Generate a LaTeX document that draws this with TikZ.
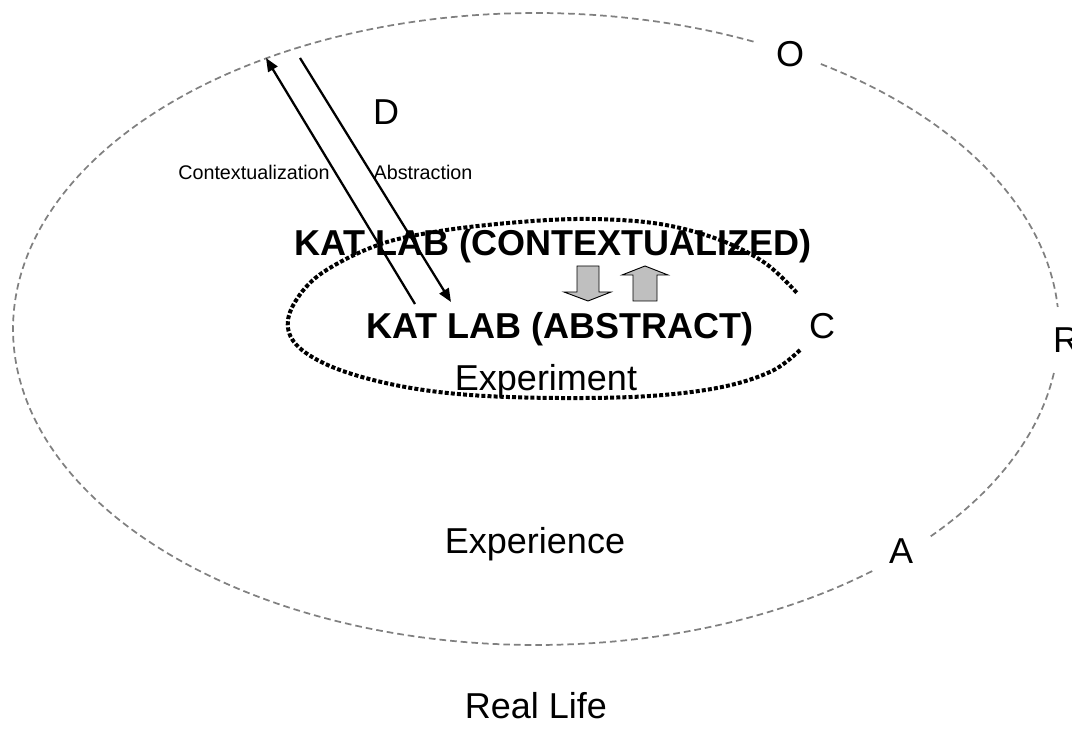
\documentclass[tikz,border=0pt]{standalone}
\usepackage{fontspec}
\setmainfont{Liberation Sans}
\usetikzlibrary{arrows.meta}
\tikzset{
  outerring/.style={draw={rgb,255:red,128;green,128;blue,128}, line width=1.3pt, dash pattern=on 5pt off 3pt},
  innerring/.style={draw=black, line width=3pt, dash pattern=on 3pt off 1.6pt},
  bigtxt/.style={anchor=base, inner sep=0pt, font=\fontsize{27}{30}\selectfont},
  boldtxt/.style={anchor=base, inner sep=0pt, font=\fontsize{27}{30}\selectfont\bfseries},
  smalltxt/.style={anchor=base, inner sep=0pt, font=\fontsize{14.8}{17}\selectfont},
  flowarrow/.style={draw=black, line width=1.7pt, -{Triangle[length=10pt,width=8pt]}},
  blockarrow/.style={draw=black, line width=0.7pt, fill=black!25}
}
\begin{document}
\begin{tikzpicture}[x=0.75pt, y=-0.75pt]
\useasboundingbox (0,0) rectangle (1072,738);
% outer ring (Experience) with gaps at O, R, A
\draw[outerring] plot[domain=-57:-4, samples=60, smooth] ({536+523*cos(\x)},{329+316*sin(\x)});
\draw[outerring] plot[domain=8:41, samples=40, smooth] ({536+523*cos(\x)},{329+316*sin(\x)});
\draw[outerring] plot[domain=50:295, samples=200, smooth] ({536+523*cos(\x)},{329+316*sin(\x)});
% inner ring (Experiment) with gap at C
\draw[innerring] plot[smooth, tension=0.6] coordinates {
  (800,350) (772,371) (722,387) (650,396) (560,398) (470,395) (400,386)
  (340,370) (302,350) (288,328) (295,302) (322,273) (378,245) (440,231)
  (520,222) (590,219) (660,224) (720,240) (765,263) (797,293)};
% labels on rings
\node[bigtxt] (o) at (790,67) {O};
\node[bigtxt] (r) at (1066,353) {R};
\node[bigtxt] (a) at (901,563) {A};
\node[bigtxt] (c) at (822,339) {C};
\node[bigtxt] (d) at (386,125) {D};
% main texts
\node[boldtxt] (ctx) at (553,256) {KAT LAB (CONTEXTUALIZED)};
\node[boldtxt] (abs) at (560,339) {KAT LAB (ABSTRACT)};
\node[bigtxt] (exper) at (546,390) {Experiment};
\node[bigtxt] (exp) at (535,553) {Experience};
\node[bigtxt] (real) at (536,718) {Real Life};
\node[smalltxt] (lctx) at (254,180) {Contextualization};
\node[smalltxt] (labs) at (423,180) {Abstraction};
% flow arrows
\coordinate (ctxTop) at (266,58);
\coordinate (ctxBot) at (415,304);
\coordinate (absTop) at (300,58);
\coordinate (absBot) at (451,302);
\draw[flowarrow] (ctxBot) -- (ctxTop);
\draw[flowarrow] (absTop) -- (absBot);
% block arrows
\draw[blockarrow] (577,266) -- (599,266) -- (599,292) -- (611,292) -- (588,301) -- (564,292) -- (577,292) -- cycle;
\draw[blockarrow] (633,301) -- (657,301) -- (657,275) -- (668,275) -- (645,266) -- (622,275) -- (633,275) -- cycle;
\end{tikzpicture}
\end{document}
